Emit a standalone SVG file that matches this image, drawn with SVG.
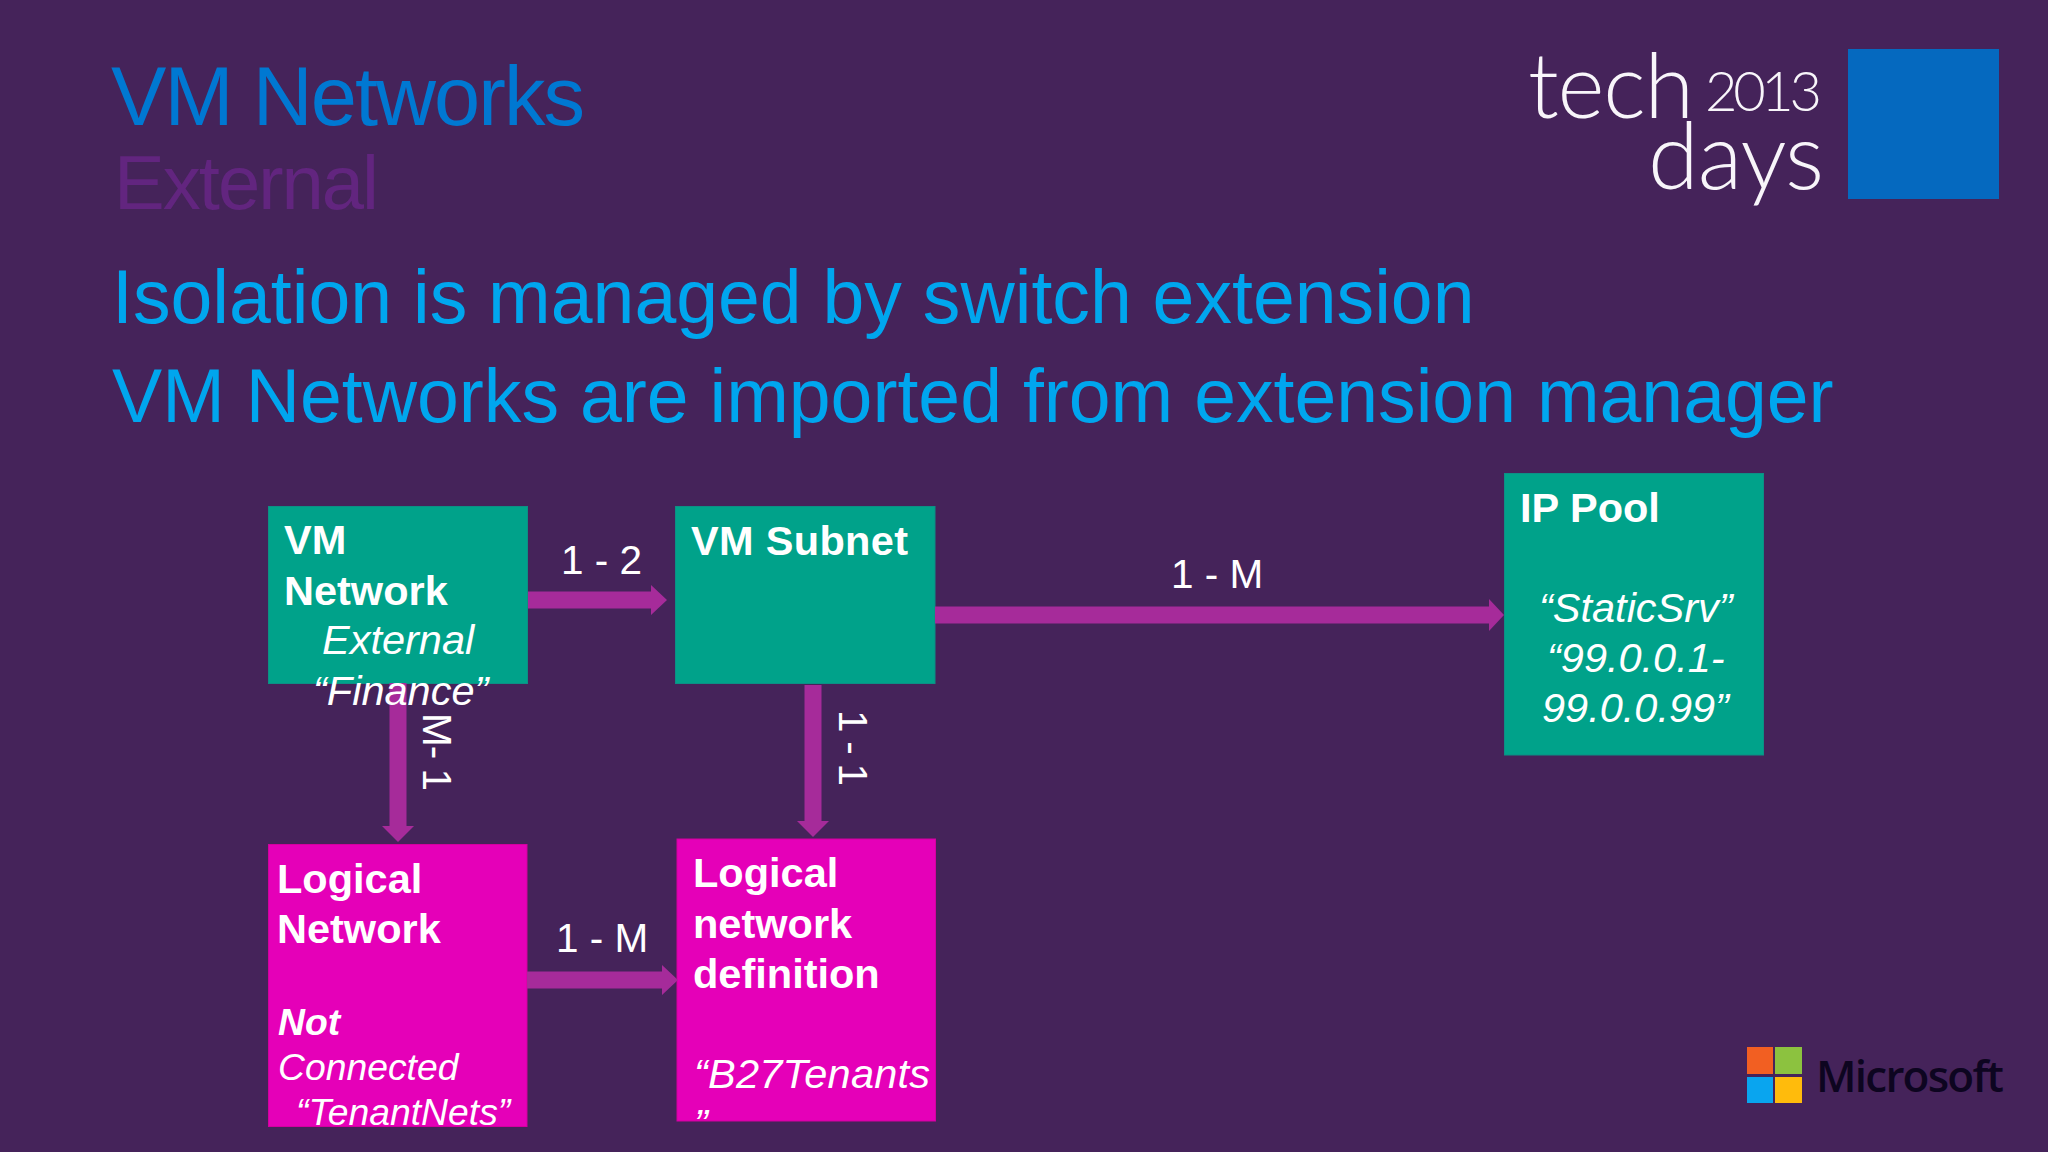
<svg xmlns="http://www.w3.org/2000/svg" width="2048" height="1152" viewBox="0 0 2048 1152">
<style>
text{font-family:"Liberation Sans",Arial,sans-serif;fill:#fff}
.b{font-weight:700;font-size:41.5px}
.i{font-style:italic;font-size:41.5px}
.s{font-style:italic;font-size:37.3px}
.l{font-size:40.5px}
.h{font-size:75.2px;fill:#00a6ee}
.teal{fill:#00a28a;stroke:#0d8f85;stroke-width:1}
.mag{fill:#e500b8;stroke:#d4009f;stroke-width:1}
.ar{fill:#a62b9a}
.logo{font-family:Lato,"Open Sans",sans-serif;font-weight:300;fill:#f8f5fa}
</style>
<rect width="2048" height="1152" fill="#45235a"/>
<text x="111" y="125" font-size="83" style="fill:#0078d2" textLength="474">VM Networks</text>
<text x="114" y="209" font-size="76" style="fill:#62257f" textLength="265">External</text>
<text class="h" x="112" y="323">Isolation is managed by switch extension</text>
<text class="h" x="112" y="422">VM Networks are imported from extension manager</text>
<g id="techdays-logo">
<text class="logo" x="1528" y="118" font-size="90" textLength="166">tech</text>
<text class="logo" x="1705" y="111" font-size="56" textLength="117">2013</text>
<text class="logo" x="1648" y="189" font-size="92" textLength="176">days</text>
<rect x="1848" y="49" width="151" height="150" fill="#0569bf"/>
</g>
<g id="microsoft-logo">
<rect x="1747" y="1047" width="26" height="27" fill="#f25f22"/>
<rect x="1775" y="1047" width="27" height="27" fill="#8cc23f"/>
<rect x="1747" y="1077" width="26" height="26" fill="#09a5ef"/>
<rect x="1775" y="1077" width="27" height="26" fill="#ffbb0c"/>
<text x="1816" y="1092" font-size="44" textLength="188" style="font-family:'Open Sans','Noto Sans',sans-serif;font-weight:600;fill:#0d0520">Microsoft</text>
</g>
<g id="vm-network"><rect class="teal" x="268.5" y="506.5" width="259" height="177"/></g>
<g id="vm-subnet"><rect class="teal" x="675.5" y="506.5" width="259.5" height="177"/>
<text class="b" x="691" y="555" textLength="217">VM Subnet</text></g>
<g id="ip-pool"><rect class="teal" x="1504.5" y="473.5" width="259" height="281.5"/>
<text class="b" x="1520" y="522">IP Pool</text>
<text class="i" x="1539" y="622">“StaticSrv”</text>
<text class="i" x="1547" y="672">“99.0.0.1-</text>
<text class="i" x="1542" y="722">99.0.0.99”</text></g>
<g id="logical-network"><rect class="mag" x="268.5" y="844.5" width="258.5" height="282"/>
<text class="b" x="277" y="893">Logical</text>
<text class="b" x="277" y="943">Network</text>
<text class="s" x="278" y="1035" style="font-weight:700">Not</text>
<text class="s" x="278" y="1080">Connected</text>
<text class="s" x="296" y="1125">“TenantNets”</text></g>
<g id="logical-network-definition"><rect class="mag" x="677" y="839" width="258.5" height="282"/>
<text class="b" x="693" y="887">Logical</text>
<text class="b" x="693" y="938">network</text>
<text class="b" x="693" y="988">definition</text>
<text class="i" x="694" y="1088" textLength="236">“B27Tenants</text>
<text class="i" x="694" y="1138">”</text></g>
<g id="connectors">
<path class="ar" d="M528 591.500H651V585L667 600L651 615V608.500H528Z"/>
<path class="ar" d="M935 606.500H1489V599L1504 615L1489 631V623.500H935Z"/>
<path class="ar" d="M389.500 683H406.500V826H414L398 842L382 826H389.500Z"/>
<path class="ar" d="M804.500 685H821.500V821H829L813 837L797 821H804.500Z"/>
<path class="ar" d="M527 971.500H662V965L678 980L662 995V988.500H527Z"/>
</g>
<g id="vm-network-text">
<text class="b" x="284" y="554">VM</text>
<text class="b" x="284" y="605">Network</text>
<text class="i" x="322" y="654">External</text>
<text class="i" x="313" y="705">“Finance”</text>
</g>
<g id="connector-labels">
<text class="l" x="561" y="574">1 - 2</text>
<text class="l" x="1171" y="588">1 - M</text>
<text class="l" x="556" y="952">1 - M</text>
<text class="l" transform="translate(423 713) rotate(90)" textLength="78">M- 1</text>
<text class="l" transform="translate(839 710) rotate(90)" textLength="76">1 - 1</text>
</g>
</svg>
